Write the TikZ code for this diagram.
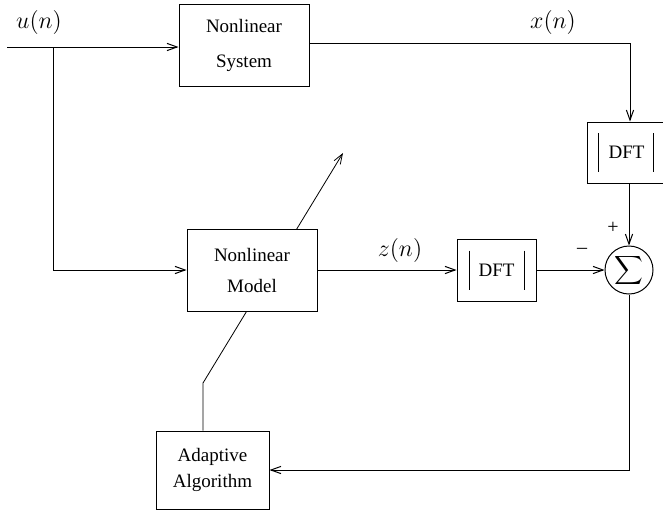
\documentclass[tikz,border=0pt]{standalone}
\usepackage{fontspec}
\setmainfont{Liberation Serif}
\usetikzlibrary{arrows.meta,backgrounds}
\begin{document}
\begin{tikzpicture}[x=0.5pt,y=-0.5pt,
  line width=0.5pt,
  blk/.style={draw, fill=white, inner sep=0pt, align=center},
  lbl/.style={inner sep=0pt, font=\fontsize{12.4}{14}\selectfont},
  arr/.style={-{Straight Barb[length=5pt,width=3.6pt]}},
  sgn/.style={inner sep=0pt, font=\fontsize{10}{11}\selectfont}]
\useasboundingbox (0,0) rectangle (663,510);
% blocks
\node[blk, minimum width=65pt, minimum height=41pt, font=\fontsize{9.5}{17.5}\selectfont] (sys) at (244,45) {Nonlinear\\System};
\node[blk, minimum width=65pt, minimum height=41pt, font=\fontsize{9.5}{15.5}\selectfont] (model) at (252,270) {Nonlinear\\Model};
\node[blk, minimum width=56.5pt, minimum height=39pt, font=\fontsize{9.5}{13}\selectfont] (adapt) at (212.5,470) {Adaptive\\Algorithm};
\node[blk, minimum width=39.5pt, minimum height=30.5pt, font=\fontsize{9.5}{11}\selectfont] (d1) at (626.5,152.5) {DFT};
\node[blk, minimum width=39.5pt, minimum height=31pt, font=\fontsize{9.5}{11}\selectfont] (d2) at (496.5,270) {DFT};
\draw ([shift={(-28,-19.5)}]d1.center) -- ++(0,39) ([shift={(27,-19.5)}]d1.center) -- ++(0,39);
\draw ([shift={(-27.5,-19.5)}]d2.center) -- ++(0,39) ([shift={(27.5,-19.5)}]d2.center) -- ++(0,39);
\node[draw, circle, minimum size=24pt, inner sep=0pt] (sig) at (629,270) {};
\node[inner sep=0pt, font=\fontsize{8.8}{10}\selectfont] at (sig.center) {$\displaystyle\sum$};
% labels
\node[lbl] (ul) at (39,22) {$u(n)$};
\node[lbl] (xl) at (553,22) {$x(n)$};
\node[lbl] (zl) at (400,250) {$z(n)$};
\node[sgn] (plus) at (613,228) {+};
\node[sgn] (minus) at (582,251) {\textendash};
% coordinates
\coordinate (in) at (7,47);
\coordinate (br) at (53,47);
\coordinate (xo) at (309,43);
\coordinate (xc) at (630,43);
\coordinate (kink) at (203,383);
\coordinate (tip) at (343,153);
\coordinate (fb) at (629,470);
% connectors
\draw[arr] (in) -- (in -| sys.west);
\draw[arr] (br) |- (model.west);
\draw[arr] (xo) -- (xc) -- (xc |- d1.north);
\draw[arr] (d1.south -| sig.north) -- (sig.north);
\draw[arr] (model.east) -- (d2.west);
\draw[arr] (d2.east) -- (sig.west);
\draw[arr] (sig.south) -- (fb) -- (fb -| adapt.east);
\begin{scope}[on background layer]
\draw[arr] (adapt.north -| kink) -- (kink) -- (tip);
\end{scope}
\end{tikzpicture}
\end{document}
